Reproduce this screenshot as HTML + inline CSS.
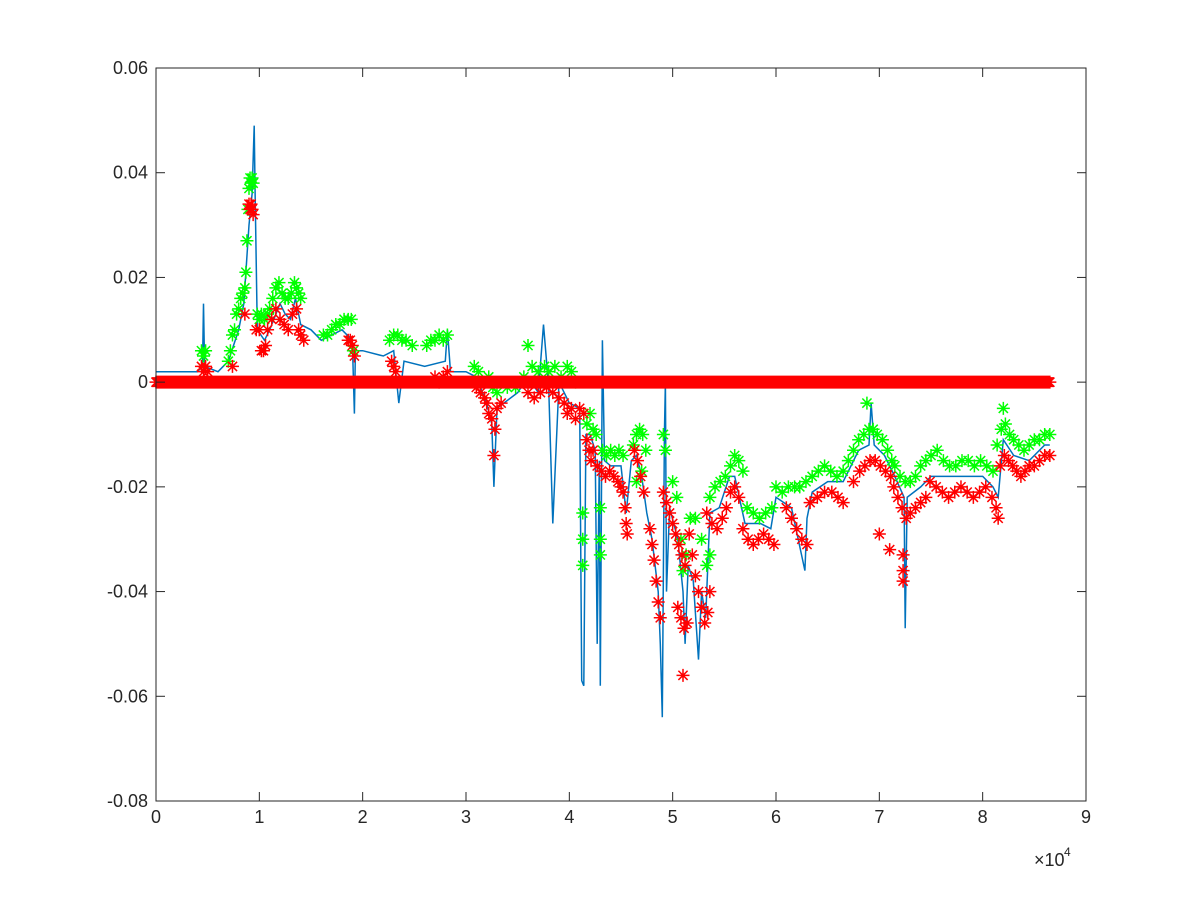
<!DOCTYPE html>
<html><head><meta charset="utf-8"><style>
body{margin:0;background:#fff;}
svg{display:block;font-family:"Liberation Sans",Arial,sans-serif;}
</style></head><body>
<svg id="chart" width="1200" height="900" viewBox="0 0 1200 900" xmlns="http://www.w3.org/2000/svg">
<rect x="0" y="0" width="1200" height="900" fill="#fff"/>
<g id="plot"></g>
<g id="axes"></g>
</svg>
<script>
// x in units of 1e4
const blueX=[0,0.4,0.45,0.46,0.47,0.6,0.7,0.8,0.85,0.9,0.93,0.95,0.96,0.98,1.05,1.1,1.2,1.25,1.3,1.35,1.4,1.5,1.6,1.7,1.8,1.9,1.92,1.93,2.0,2.2,2.3,2.35,2.4,2.6,2.8,2.82,2.85,3.0,3.1,3.2,3.25,3.27,3.3,3.5,3.6,3.7,3.75,3.8,3.84,3.9,4.0,4.1,4.12,4.14,4.16,4.2,4.25,4.27,4.29,4.3,4.32,4.34,4.4,4.5,4.55,4.6,4.65,4.7,4.75,4.8,4.86,4.88,4.9,4.92,4.93,4.94,4.97,5.05,5.1,5.12,5.15,5.2,5.25,5.28,5.32,5.36,5.45,5.55,5.6,5.7,5.85,5.95,6.0,6.15,6.28,6.3,6.35,6.5,6.65,6.8,6.9,6.92,6.95,7.05,7.15,7.24,7.25,7.27,7.4,7.5,7.7,7.8,8.0,8.1,8.15,8.2,8.3,8.45,8.6,8.65];
const blueY=[0.002,0.002,0.003,0.015,0.003,0.002,0.004,0.010,0.015,0.030,0.036,0.049,0.035,0.010,0.008,0.010,0.015,0.013,0.012,0.016,0.011,0.010,0.008,0.009,0.010,0.008,-0.006,0.006,0.006,0.005,0.006,-0.004,0.004,0.003,0.004,0.010,0.002,0.002,0.001,-0.004,-0.008,-0.020,-0.005,-0.002,0.001,-0.002,0.011,-0.001,-0.027,0.000,-0.004,-0.005,-0.057,-0.058,-0.010,-0.010,-0.013,-0.050,-0.015,-0.058,0.008,-0.015,-0.016,-0.016,-0.025,-0.015,-0.014,-0.018,-0.025,-0.030,-0.040,-0.050,-0.064,-0.010,0.000,-0.040,-0.024,-0.030,-0.040,-0.050,-0.035,-0.038,-0.053,-0.040,-0.045,-0.025,-0.024,-0.018,-0.018,-0.027,-0.027,-0.028,-0.022,-0.024,-0.036,-0.026,-0.021,-0.019,-0.019,-0.013,-0.012,-0.004,-0.012,-0.014,-0.018,-0.022,-0.047,-0.022,-0.020,-0.018,-0.018,-0.018,-0.018,-0.020,-0.022,-0.011,-0.014,-0.015,-0.012,-0.012];
const greenX=[0.44,0.46,0.48,0.70,0.72,0.74,0.76,0.78,0.80,0.82,0.84,0.86,0.87,0.88,0.89,0.90,0.91,0.92,0.93,0.94,0.98,1.0,1.02,1.05,1.08,1.10,1.13,1.16,1.19,1.22,1.25,1.28,1.31,1.34,1.36,1.38,1.40,1.62,1.66,1.70,1.74,1.78,1.82,1.86,1.89,1.91,2.26,2.30,2.34,2.38,2.42,2.48,2.62,2.66,2.70,2.74,2.78,2.82,3.08,3.12,3.22,3.26,3.30,3.40,3.48,3.56,3.60,3.64,3.70,3.76,3.80,3.86,3.92,3.98,4.02,4.06,
4.13,4.13,4.13,4.17,4.20,4.23,4.26,4.30,4.30,4.30,4.32,4.36,4.40,4.44,4.48,4.52,4.62,4.65,4.68,4.71,4.74,4.65,4.70,4.91,4.93,
5.00,5.04,5.08,5.10,5.13,5.17,5.22,5.28,5.33,5.36,5.36,5.41,5.46,5.51,5.56,5.60,5.64,5.68,5.72,5.78,5.84,5.90,5.96,6.00,6.06,6.12,6.18,6.23,6.29,6.35,6.41,6.47,6.53,6.59,6.65,6.70,6.75,6.80,6.85,6.88,6.90,6.94,6.98,7.03,7.08,7.12,7.15,7.20,7.25,7.30,7.35,7.40,7.45,7.50,7.56,7.62,7.68,7.74,7.80,7.86,7.92,7.98,8.04,8.10,8.14,8.18,8.20,8.22,8.26,8.30,8.35,8.40,8.45,8.50,8.55,8.60,8.65];
const greenY=[0.006,0.005,0.006,0.004,0.006,0.009,0.010,0.013,0.014,0.016,0.017,0.018,0.021,0.027,0.033,0.037,0.039,0.038,0.039,0.038,0.013,0.012,0.013,0.012,0.013,0.014,0.016,0.018,0.019,0.017,0.016,0.016,0.017,0.019,0.018,0.017,0.016,0.009,0.009,0.010,0.011,0.011,0.012,0.012,0.012,0.006,0.008,0.009,0.009,0.008,0.008,0.007,0.007,0.008,0.008,0.009,0.008,0.009,0.003,0.002,0.001,-0.001,-0.002,-0.001,-0.001,0.001,0.007,0.003,0.002,0.003,0.002,0.003,0.001,0.003,0.002,0.000,
-0.025,-0.030,-0.035,-0.008,-0.006,-0.009,-0.010,-0.024,-0.030,-0.033,-0.013,-0.014,-0.013,-0.014,-0.013,-0.014,-0.012,-0.010,-0.009,-0.010,-0.013,-0.019,-0.017,-0.010,-0.013,
-0.019,-0.022,-0.030,-0.036,-0.033,-0.026,-0.026,-0.030,-0.035,-0.033,-0.022,-0.020,-0.019,-0.018,-0.016,-0.014,-0.015,-0.017,-0.024,-0.025,-0.026,-0.025,-0.024,-0.020,-0.021,-0.020,-0.020,-0.020,-0.019,-0.018,-0.017,-0.016,-0.017,-0.018,-0.017,-0.015,-0.013,-0.011,-0.010,-0.004,-0.009,-0.009,-0.010,-0.011,-0.013,-0.015,-0.016,-0.018,-0.019,-0.019,-0.018,-0.016,-0.015,-0.014,-0.013,-0.015,-0.016,-0.016,-0.015,-0.015,-0.016,-0.015,-0.016,-0.017,-0.012,-0.009,-0.005,-0.008,-0.010,-0.011,-0.012,-0.013,-0.012,-0.011,-0.011,-0.010,-0.010];
const redX=[0.44,0.46,0.48,0.50,0.74,0.86,0.90,0.91,0.92,0.93,0.94,0.97,1.00,1.02,1.04,1.06,1.08,1.12,1.16,1.20,1.24,1.28,1.32,1.36,1.38,1.40,1.43,1.86,1.88,1.90,1.92,2.28,2.30,2.32,2.70,2.74,2.78,2.82,3.10,3.14,3.18,3.20,3.22,3.25,3.27,3.28,3.30,3.34,3.60,3.66,3.72,3.78,3.84,3.90,3.95,3.98,4.02,4.06,4.10,4.14,
4.17,4.19,4.21,4.23,4.27,4.31,4.35,4.39,4.43,4.47,4.50,4.52,4.54,4.55,4.56,4.63,4.66,4.69,4.72,4.78,4.80,4.82,4.84,4.86,4.88,4.91,4.94,4.97,5.00,5.03,5.06,5.09,5.12,5.05,5.08,5.11,5.14,5.16,5.19,5.22,5.25,5.28,5.31,5.34,5.36,5.10,
5.33,5.38,5.43,5.48,5.52,5.56,5.60,5.64,5.68,5.73,5.78,5.83,5.88,5.93,5.98,6.10,6.15,6.20,6.25,6.30,6.33,6.40,6.47,6.54,6.60,6.65,6.75,6.81,6.86,6.91,6.96,7.01,7.06,7.11,7.00,7.10,7.23,7.23,7.23,7.14,7.18,7.22,7.26,7.30,7.35,7.40,7.45,7.49,7.55,7.61,7.67,7.73,7.79,7.85,7.91,7.97,8.03,8.09,8.13,8.15,8.17,8.21,8.25,8.29,8.33,8.37,8.41,8.45,8.50,8.55,8.60,8.65];
const redY=[0.003,0.002,0.003,0.002,0.003,0.013,0.034,0.033,0.034,0.033,0.032,0.010,0.010,0.006,0.006,0.007,0.010,0.012,0.014,0.012,0.011,0.010,0.013,0.014,0.010,0.009,0.008,0.008,0.008,0.007,0.005,0.004,0.003,0.002,0.001,0.000,0.001,0.002,-0.001,-0.002,-0.003,-0.004,-0.006,-0.007,-0.014,-0.009,-0.005,-0.004,-0.002,-0.003,-0.002,-0.001,-0.002,-0.003,-0.004,-0.006,-0.005,-0.007,-0.005,-0.006,
-0.011,-0.013,-0.015,-0.013,-0.016,-0.017,-0.018,-0.017,-0.018,-0.019,-0.020,-0.021,-0.024,-0.027,-0.029,-0.013,-0.015,-0.018,-0.021,-0.028,-0.031,-0.034,-0.038,-0.042,-0.045,-0.021,-0.023,-0.025,-0.027,-0.029,-0.031,-0.033,-0.035,-0.043,-0.045,-0.047,-0.046,-0.029,-0.033,-0.037,-0.040,-0.043,-0.046,-0.044,-0.040,-0.056,
-0.025,-0.027,-0.028,-0.026,-0.024,-0.021,-0.020,-0.022,-0.028,-0.030,-0.031,-0.030,-0.029,-0.030,-0.031,-0.024,-0.026,-0.028,-0.030,-0.031,-0.023,-0.022,-0.021,-0.021,-0.022,-0.023,-0.019,-0.017,-0.016,-0.015,-0.015,-0.016,-0.017,-0.018,-0.029,-0.032,-0.033,-0.036,-0.038,-0.020,-0.022,-0.024,-0.026,-0.025,-0.024,-0.023,-0.022,-0.019,-0.020,-0.021,-0.022,-0.021,-0.020,-0.021,-0.022,-0.021,-0.020,-0.022,-0.024,-0.026,-0.016,-0.014,-0.015,-0.016,-0.017,-0.018,-0.017,-0.016,-0.016,-0.015,-0.014,-0.014];
const zeroStart=0, zeroEnd=8.65, zeroValue=0;
const xTicks=[0,1,2,3,4,5,6,7,8,9];
const yTicks=[-0.08,-0.06,-0.04,-0.02,0,0.02,0.04,0.06];
const yTickLabels=["-0.08","-0.06","-0.04","-0.02","0","0.02","0.04","0.06"];

const L=156,R=1086,T=68,B=801;
const xs=v=>L+(v-0)/(9-0)*(R-L);
const ys=v=>B-(v+0.08)/(0.14)*(B-T);
const NS="http://www.w3.org/2000/svg";
const plot=document.getElementById('plot'), axes=document.getElementById('axes');
function mk(tag,attrs,parent){const e=document.createElementNS(NS,tag);for(const k in attrs)e.setAttribute(k,attrs[k]);parent.appendChild(e);return e;}

let d=blueX.map((x,i)=>(i?'L':'M')+xs(x).toFixed(1)+' '+ys(blueY[i]).toFixed(1)).join(' ');
const line=mk('path',{d:d,fill:'none',stroke:'#0072BD','stroke-width':1.5},plot);



function starPath(cx,cy){const s=6.5,t=4.6;return `M${cx-s} ${cy}H${cx+s}M${cx} ${cy-s}V${cy+s}M${cx-t} ${cy-t}L${cx+t} ${cy+t}M${cx-t} ${cy+t}L${cx+t} ${cy-t}`;}
function stars(X,Y,color,name){
  const g=mk('g',{},plot);
  
  
  let p='';
  X.forEach((x,i)=>{p+=starPath(xs(x),ys(Y[i]));});
  mk('path',{d:p,fill:'none',stroke:color,'stroke-width':1.5},g);
}
stars(greenX,greenY,'#00FF00','green-star-series');
const zx=[],zy=[];
for(let v=zeroStart;v<=zeroEnd+1e-9;v+=0.005){zx.push(v);zy.push(zeroValue);}
stars(zx,zy,'#FF0000','red-zero-series');
stars(redX,redY,'#FF0000','red-star-series');

const box=mk('rect',{x:L,y:T,width:R-L,height:B-T,fill:'none',stroke:'#262626','stroke-width':1},axes);


xTicks.forEach(v=>{
  const x=xs(v);
  mk('line',{x1:x,y1:B,x2:x,y2:B-9,stroke:'#262626'},axes);
  mk('line',{x1:x,y1:T,x2:x,y2:T+9,stroke:'#262626'},axes);
  const t=mk('text',{x:x,y:B+22,'text-anchor':'middle','font-size':18,fill:'#262626'},axes);
  t.textContent=v;
  
  
});
yTicks.forEach((v,i)=>{
  const y=ys(v);
  mk('line',{x1:L,y1:y,x2:L+9,y2:y,stroke:'#262626'},axes);
  mk('line',{x1:R,y1:y,x2:R-9,y2:y,stroke:'#262626'},axes);
  const t=mk('text',{x:L-8,y:y+6,'text-anchor':'end','font-size':18,fill:'#262626'},axes);
  t.textContent=yTickLabels[i];
  
  
});
const ex=mk('text',{x:1034,y:866,'font-size':18,fill:'#262626'},axes);
ex.textContent='\u00d710';


const ex2=mk('text',{x:1064,y:856,'font-size':12,fill:'#262626'},axes);
ex2.textContent='4';


</script>
</body></html>
